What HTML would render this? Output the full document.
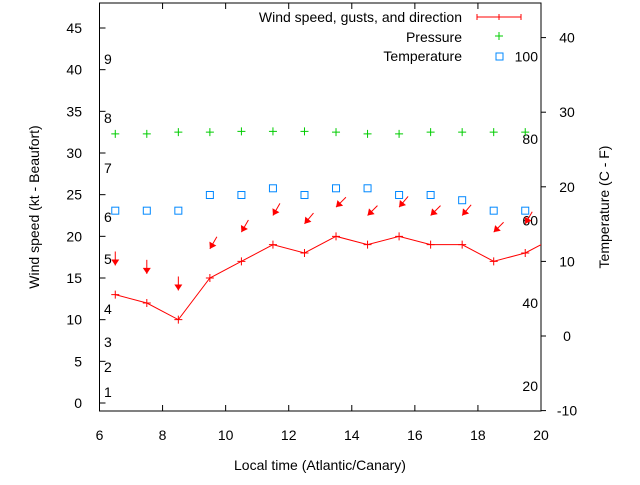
<!DOCTYPE html>
<html><head><meta charset="utf-8"><style>
body{margin:0;background:#fff}
svg text{font-family:"Liberation Sans",sans-serif;font-size:14px;fill:#000}
</style></head><body>
<svg width="640" height="480" xmlns="http://www.w3.org/2000/svg">
<g id="grid"></g>
<g id="marks"></g>
</svg>
<script>
const hours=[6.5,7.5,8.5,9.5,10.5,11.5,12.5,13.5,14.5,15.5,16.5,17.5,18.5,19.5,20.5];
const windSpeed=[13,12,10,15,17,19,18,20,19,20,19,19,17,18,20];
const gustHours=[6.5,7.5,8.5,9.5,10.5,11.5,12.5,13.5,14.5,15.5,16.5,17.5,18.5,19.5];
const gusts=[16.5,15.5,13.5,18.5,20.5,22.5,21.5,23.5,22.5,23.5,22.5,22.5,20.5,21.5];
const windDirDeg=[0,0,0,30,30,30,40,45,45,40,45,40,45,30];
const pressure=[32.3,32.3,32.5,32.5,32.6,32.6,32.6,32.5,32.3,32.3,32.5,32.5,32.5,32.5];
const tempC=[16.8,16.8,16.8,18.9,18.9,19.8,18.9,19.8,19.8,18.9,18.9,18.2,16.8,16.8];
const xTicks=[6,8,10,12,14,16,18,20];
const yTicks=[0,5,10,15,20,25,30,35,40,45];
const y2Ticks=[-10,0,10,20,30,40];
const beaufort=[[1,1.3],[2,4.3],[3,7.3],[4,11.3],[5,17.3],[6,22.3],[7,28.2],[8,34.2],[9,41.3]];
const fahr=[[100,37.5],[80,26.4],[60,15.5],[40,4.4],[20,-6.7]];
const L=99.5,R=541,T=3,B=411;
const X=h=>L+(h-6)*(R-L)/14;
const Y=v=>403-v*(400/48);
const Y2=c=>336-c*7.46;
const NS="http://www.w3.org/2000/svg";
const svg=document.querySelector('svg'),g=document.getElementById('grid'),m=document.getElementById('marks');
function el(p,t,a){const e=document.createElementNS(NS,t);for(const k in a)e.setAttribute(k,a[k]);p.appendChild(e);return e;}
const frame=el(g,'rect',{x:L,y:T,width:R-L,height:B-T,fill:'none',stroke:'#000','stroke-width':1});


xTicks.forEach(t=>{const x=X(t);
el(g,'line',{x1:x,y1:B,x2:x,y2:B-6,stroke:'#000'});el(g,'line',{x1:x,y1:T,x2:x,y2:T+6,stroke:'#000'});
const tx=el(g,'text',{x:x,y:440,'text-anchor':'middle'});tx.textContent=t;

});
yTicks.forEach(t=>{const y=Y(t);el(g,'line',{x1:L,y1:y,x2:L+6,y2:y,stroke:'#000'});
const tx=el(g,'text',{x:82,y:y+5,'text-anchor':'end'});tx.textContent=t;

});
y2Ticks.forEach(t=>{const y=Y2(t);el(g,'line',{x1:R,y1:y,x2:R+5,y2:y,stroke:'#000'});
const tx=el(g,'text',{x:567,y:y+5,'text-anchor':'middle'});tx.textContent=t;

});
beaufort.forEach(b=>{const tx=el(g,'text',{x:104,y:Y(b[1])+5});tx.textContent=b[0];

});
fahr.forEach(f=>{const tx=el(g,'text',{x:538,y:Y2(f[1])+5,'text-anchor':'end'});tx.textContent=f[0];

});
let t1=el(g,'text',{x:320,y:470,'text-anchor':'middle'});t1.textContent='Local time (Atlantic/Canary)';

let t2=el(g,'text',{x:0,y:0,transform:'translate(39,207) rotate(-90)','text-anchor':'middle'});t2.textContent='Wind speed (kt - Beaufort)';

let t3=el(g,'text',{x:0,y:0,transform:'translate(609,207) rotate(-90)','text-anchor':'middle'});t3.textContent='Temperature (C - F)';

const cp=el(svg,'clipPath',{id:'c'});el(cp,'rect',{x:L,y:T,width:R-L,height:B-T});
m.setAttribute('clip-path','url(#c)');
const pts=hours.map((h,i)=>X(h)+','+Y(windSpeed[i])).join(' ');
const pl=el(m,'polyline',{points:pts,fill:'none',stroke:'#f00','stroke-width':1});

function plus(p,x,y,c){el(p,'path',{d:`M${x-4},${y}h8M${x},${y-4}v8`,stroke:c,'stroke-width':1});}
hours.forEach((h,i)=>plus(m,X(h),Y(windSpeed[i]),'#f00'));
gustHours.forEach((h,i)=>{const x=X(h),y=Y(gusts[i]);const a=windDirDeg[i]*Math.PI/180;
const dx=Math.sin(a),dy=Math.cos(a),len=14;
const gg=el(m,'g',{});


el(gg,'line',{x1:x+dx*len,y1:y-dy*len,x2:x,y2:y,stroke:'#f00','stroke-width':1});
const px=-dy,py=-dx;
el(gg,'polygon',{points:`${x},${y} ${x+dx*6+px*4},${y-dy*6+py*4} ${x+dx*6-px*4},${y-dy*6-py*4}`,fill:'#f00'});});
gustHours.forEach((h,i)=>{const p=el(m,'g',{});


plus(p,X(h),Y(pressure[i]),'#0c0');});
gustHours.forEach((h,i)=>{const r=el(m,'rect',{x:X(h)-3.5,y:Y2(tempC[i])-3.5,width:7,height:7,fill:'none',stroke:'#08f','stroke-width':1});

});
const lg=el(svg,'g',{});


[['Wind speed, gusts, and direction',22],['Pressure',42],['Temperature',61]].forEach(e=>{const tx=el(lg,'text',{x:462,y:e[1],'text-anchor':'end'});tx.textContent=e[0];});
el(lg,'path',{d:'M477,17h44M477,14v6M521,14v6M499,14v6',stroke:'#f00'});
plus(lg,499,36,'#0c0');
el(lg,'rect',{x:496,y:53,width:7,height:7,fill:'none',stroke:'#08f'});
</script>
</body></html>
